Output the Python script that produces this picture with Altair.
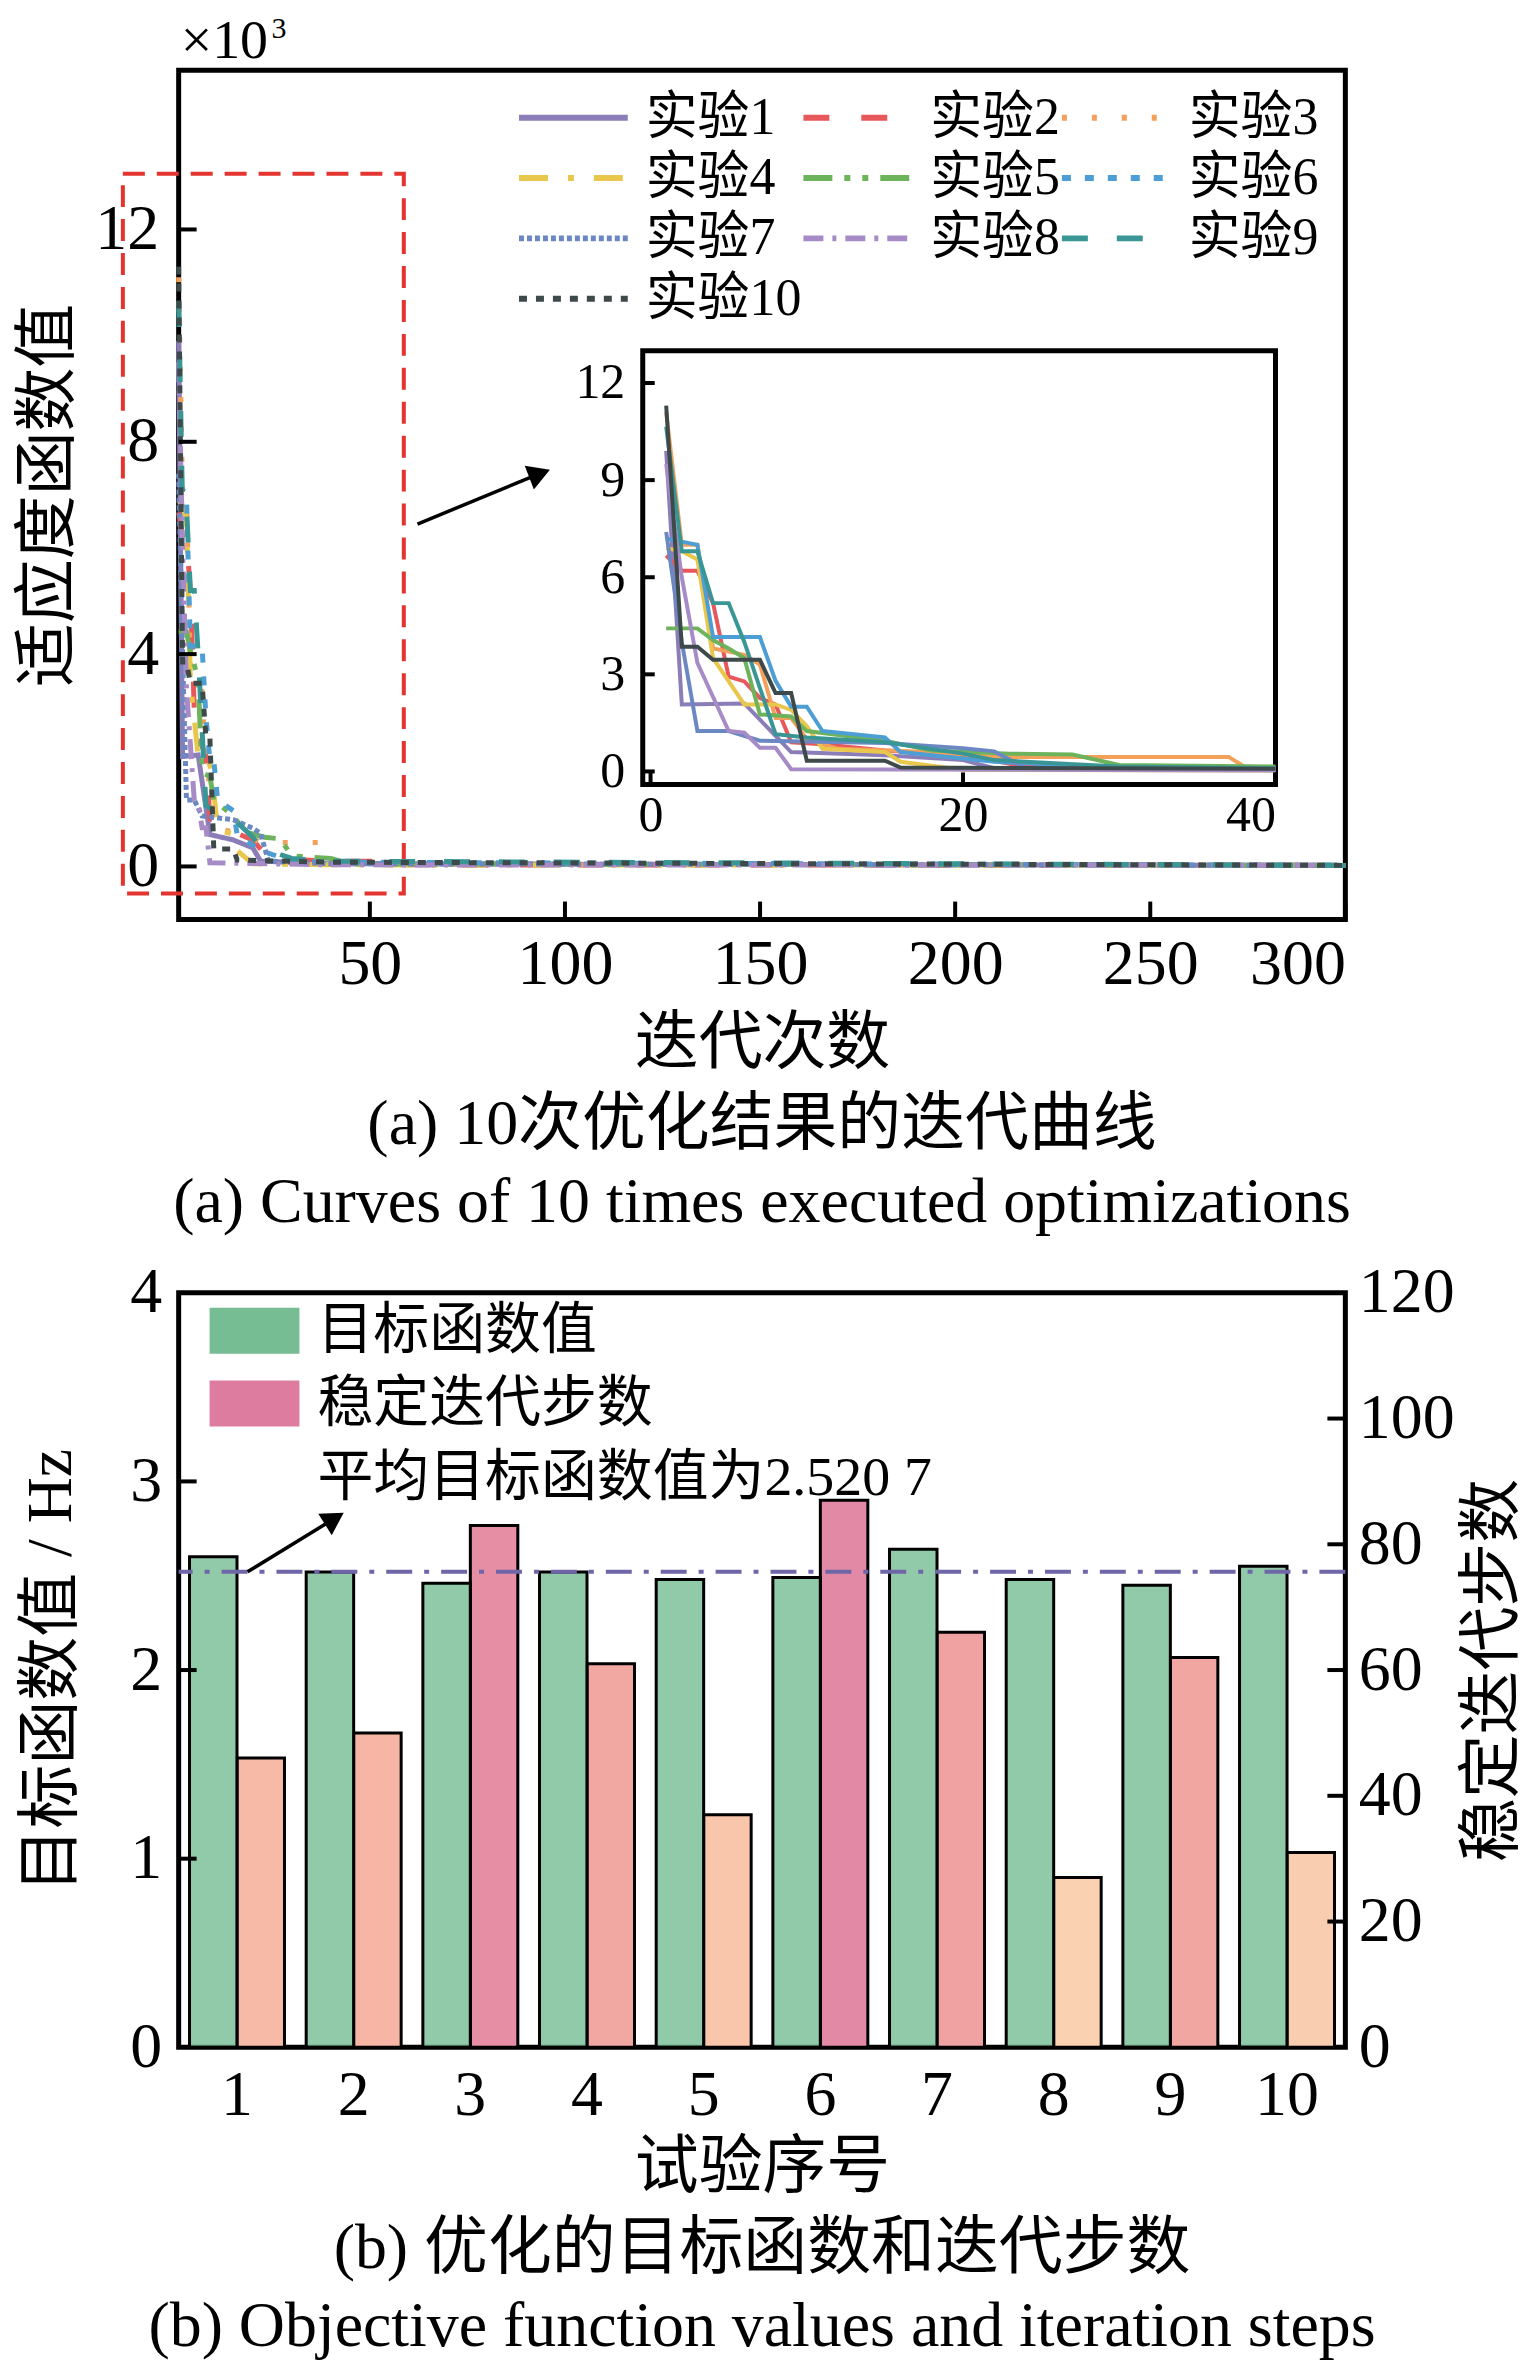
import altair as alt
import pandas as pd

FONT = "Liberation Serif, Noto Sans CJK SC"

# ---------------- (a) 10 runs, fitness value (x10^3) vs iteration ----------------
runs = ["实验1", "实验2", "实验3", "实验4", "实验5", "实验6", "实验7", "实验8", "实验9", "实验10"]

it1 = [1, 2, 6, 8, 9, 15, 20, 22, 40, 300]
v1 = [9.9, 2.07, 2.1, 1.1, 0.6, 0.5, 0.35, 0.1, 0.05, 0.02]
it2 = [1, 2, 3, 4, 5, 6, 7, 8, 9, 11, 15, 20, 24, 40, 52, 60, 300]
v2 = [6.67, 6.2, 6.2, 5.2, 2.93, 2.78, 2.27, 2.07, 0.9, 0.84, 0.65, 0.5, 0.15, 0.1, 0.1, 0.03, 0.02]
it3 = [1, 2, 3, 4, 6, 7, 8, 9, 10, 12, 18, 22, 37, 38, 40, 55, 300]
v3 = [11.1, 7.0, 7.0, 3.8, 3.6, 3.3, 1.65, 1.65, 1.0, 0.7, 0.6, 0.45, 0.45, 0.15, 0.1, 0.04, 0.02]
it4 = [1, 2, 3, 4, 6, 8, 9, 10, 11, 15, 16, 20, 40, 300]
v4 = [6.9, 6.8, 6.55, 3.5, 2.07, 2.07, 1.9, 1.4, 0.7, 0.6, 0.3, 0.05, 0.03, 0.02]
it5 = [1, 3, 4, 5, 6, 7, 9, 10, 15, 18, 23, 27, 30, 40, 45, 300]
v5 = [4.42, 4.42, 4.06, 3.8, 3.5, 1.76, 1.7, 1.25, 0.95, 0.65, 0.55, 0.52, 0.2, 0.15, 0.05, 0.02]
it6 = [1, 2, 3, 4, 7, 8, 9, 10, 11, 15, 16, 22, 30, 40, 300]
v6 = [7.2, 7.1, 7.0, 4.15, 4.15, 2.8, 2.0, 2.0, 1.25, 1.05, 0.6, 0.3, 0.1, 0.08, 0.02]
it7 = [1, 2, 3, 5, 7, 15, 20, 22, 24, 40, 300]
v7 = [7.4, 4.0, 1.25, 1.25, 0.95, 0.88, 0.72, 0.62, 0.1, 0.05, 0.02]
it8 = [1, 2, 3, 5, 6, 7, 8, 9, 40, 300]
v8 = [9.5, 6.0, 3.35, 1.25, 1.2, 0.73, 0.73, 0.07, 0.03, 0.02]
it9 = [1, 2, 3, 4, 5, 6, 8, 10, 15, 20, 22, 30, 40, 300]
v9 = [10.65, 6.8, 6.8, 5.2, 5.2, 4.0, 1.15, 1.05, 0.9, 0.55, 0.35, 0.15, 0.1, 0.02]
it10 = [1, 2, 3, 4, 7, 8, 9, 10, 15, 16, 40, 300]
v10 = [11.3, 3.85, 3.85, 3.45, 3.45, 2.42, 2.42, 0.33, 0.33, 0.12, 0.08, 0.02]

run_iters = [it1, it2, it3, it4, it5, it6, it7, it8, it9, it10]
run_vals = [v1, v2, v3, v4, v5, v6, v7, v8, v9, v10]

run_colors = ["#8B7DB8", "#E8575A", "#F3A05A", "#E9C74C", "#6CB35C",
              "#4C9ED4", "#6C88C2", "#A68BC7", "#3A9595", "#3E4A4A"]
run_dashes = [[1, 0], [26, 32], [5, 25], [29, 20, 6, 20], [29, 12, 6, 12, 6, 12],
              [9, 14], [5, 3], [20, 9, 4, 9], [26, 29], [8, 9]]

main_x_domain = [1, 300]
main_y_domain = [-1, 15]
main_x_ticks = [50, 100, 150, 200, 250, 300]
main_y_ticks = [0, 4, 8, 12]

inset_x_domain = [-0.5, 40]
inset_y_domain = [-0.4, 13]
inset_x_ticks = [0, 20, 40]
inset_y_ticks = [0, 3, 6, 9, 12]

box_x = [-13.3, 58.7]
box_y = [-0.51, 13.05]
arrow_a = [62.2, 6.45, 93.5, 7.4]   # tail x, tail y, head x, head y

# ---------------- (b) objective values and steps ----------------
trials = list(range(1, 11))
objective = [2.60, 2.52, 2.46, 2.52, 2.48, 2.49, 2.64, 2.48, 2.45, 2.55]
steps = [46, 50, 83, 61, 37, 87, 66, 27, 62, 31]
mean_obj = 2.5207
mean_label = "平均目标函数值为2.520 7"
bar_kinds = ["目标函数值", "稳定迭代步数"]
left_ticks = [1, 2, 3]
right_ticks = [20, 40, 60, 80, 100]

TOP_W, TOP_H = 1169, 851
BOT_W, BOT_H = 1169, 756
TICK = 18

curves = pd.concat(
    [pd.DataFrame({"iter": i, "val": v, "run": n}) for n, i, v in zip(runs, run_iters, run_vals)],
    ignore_index=True,
)

color_scale = alt.Scale(domain=runs, range=run_colors)
dash_scale = alt.Scale(domain=runs, range=run_dashes)
# line symbol drawn twice as long as its nominal size, so rows stay compact
run_legend = alt.Legend(
    title=None, orient="none", legendX=365, legendY=17, columns=3, direction="horizontal",
    columnPadding=-11, rowPadding=3.5, symbolType="M-2,0H2", symbolSize=2970,
    symbolStrokeWidth=6, labelFont=FONT, labelFontSize=52, labelOffset=42,
    labelLimit=0, labelColor="black",
)

main_x_scale = alt.Scale(domain=main_x_domain, nice=False, zero=False)
main_y_scale = alt.Scale(domain=main_y_domain, nice=False, zero=False)
# same axis object on every layer of a shared channel (axis=None would drop it)
main_x_axis = alt.Axis(values=main_x_ticks, ticks=False, domain=False, grid=False,
                       labelFontSize=64, labelPadding=13, title="迭代次数",
                       titleFontSize=64, titlePadding=15)
main_y_axis = alt.Axis(values=main_y_ticks, ticks=False, domain=False, grid=False,
                       labelFontSize=64, labelPadding=20, title="适应度函数值",
                       titleFontSize=64, titlePadding=14)

main_lines = alt.Chart(curves).mark_line(strokeWidth=5).encode(
    x=alt.X("iter:Q", scale=main_x_scale, axis=main_x_axis),
    y=alt.Y("val:Q", scale=main_y_scale, axis=main_y_axis),
    color=alt.Color("run:N", scale=color_scale, legend=run_legend),
    strokeDash=alt.StrokeDash("run:N", scale=dash_scale, legend=run_legend),
)

main_ytick = alt.Chart(pd.DataFrame({"v": main_y_ticks})).mark_rule(color="black", strokeWidth=4).encode(
    y=alt.Y("v:Q", scale=main_y_scale, axis=main_y_axis), x=alt.value(0), x2=alt.value(TICK))
main_xtick = alt.Chart(pd.DataFrame({"v": main_x_ticks})).mark_rule(color="black", strokeWidth=4).encode(
    x=alt.X("v:Q", scale=main_x_scale, axis=main_x_axis), y=alt.value(TOP_H), y2=alt.value(TOP_H - TICK))

zoom_box = alt.Chart(pd.DataFrame({"x0": [box_x[0]], "x1": [box_x[1]], "y0": [box_y[0]], "y1": [box_y[1]]})).mark_rect(
    fillOpacity=0, stroke="#E3342F", strokeWidth=4, strokeDash=[22, 12]
).encode(
    x=alt.X("x0:Q", scale=main_x_scale, axis=main_x_axis), x2="x1:Q",
    y=alt.Y("y0:Q", scale=main_y_scale, axis=main_y_axis), y2="y1:Q",
)

arrow_df = pd.DataFrame({"x0": [arrow_a[0]], "y0": [arrow_a[1]], "x1": [arrow_a[2]], "y1": [arrow_a[3]]})
arrow_line = alt.Chart(arrow_df).mark_rule(color="black", strokeWidth=3.5).encode(
    x=alt.X("x0:Q", scale=main_x_scale, axis=main_x_axis), x2="x1:Q",
    y=alt.Y("y0:Q", scale=main_y_scale, axis=main_y_axis), y2="y1:Q",
)
arrow_head = alt.Chart(arrow_df).mark_point(shape="triangle-up", filled=True, size=650, angle=69,
                                            color="black", opacity=1).encode(
    x=alt.X("x1:Q", scale=main_x_scale, axis=main_x_axis),
    y=alt.Y("y1:Q", scale=main_y_scale, axis=main_y_axis),
)

x10_text = alt.Chart(pd.DataFrame({"t": ["×10"]})).mark_text(
    font=FONT, fontSize=56, align="left", baseline="alphabetic", color="black"
).encode(x=alt.value(2), y=alt.value(-12), text="t:N")
x10_exp = alt.Chart(pd.DataFrame({"t": ["3"]})).mark_text(
    font=FONT, fontSize=30, align="left", baseline="alphabetic", color="black"
).encode(x=alt.value(93), y=alt.value(-32), text="t:N")

main_layer = alt.layer(zoom_box, main_lines, main_ytick, main_xtick, arrow_line, arrow_head, x10_text, x10_exp)

# inset (zoom of first 40 iterations)
inset_x_scale = alt.Scale(domain=inset_x_domain, range=[465, 1099], nice=False, zero=False)
inset_y_scale = alt.Scale(domain=inset_y_domain, range=[715.6, 281], nice=False, zero=False)
inset_x_axis = alt.Axis(orient="bottom", offset=715.6 - TOP_H, values=inset_x_ticks, ticks=False,
                        domain=False, grid=False, labelFontSize=50, labelPadding=6, title=None, zindex=2)
inset_y_axis = alt.Axis(orient="left", offset=-465, values=inset_y_ticks, ticks=False,
                        domain=False, grid=False, labelFontSize=50, labelPadding=18, title=None, zindex=2)

inset_box = alt.Chart(pd.DataFrame({"x0": [inset_x_domain[0]], "x1": [inset_x_domain[1]],
                                    "y0": [inset_y_domain[0]], "y1": [inset_y_domain[1]]})).mark_rect(
    fill="white", stroke="black", strokeWidth=5
).encode(
    x=alt.X("x0:Q", scale=inset_x_scale, axis=inset_x_axis), x2="x1:Q",
    y=alt.Y("y0:Q", scale=inset_y_scale, axis=inset_y_axis), y2="y1:Q",
)
inset_lines = alt.Chart(curves).transform_filter("datum.iter <= 40").mark_line(strokeWidth=4).encode(
    x=alt.X("iter:Q", scale=inset_x_scale, axis=inset_x_axis),
    y=alt.Y("val:Q", scale=inset_y_scale, axis=inset_y_axis),
    color=alt.Color("run:N", scale=color_scale, legend=run_legend),
)
inset_ytick = alt.Chart(pd.DataFrame({"v": inset_y_ticks})).mark_rule(color="black", strokeWidth=4).encode(
    y=alt.Y("v:Q", scale=inset_y_scale, axis=inset_y_axis), x=alt.value(465), x2=alt.value(477))
inset_xtick = alt.Chart(pd.DataFrame({"v": inset_x_ticks})).mark_rule(color="black", strokeWidth=4).encode(
    x=alt.X("v:Q", scale=inset_x_scale, axis=inset_x_axis), y=alt.value(715.6), y2=alt.value(703.6))

inset_layer = alt.layer(inset_box, inset_lines, inset_ytick, inset_xtick)

top = alt.layer(main_layer, inset_layer).resolve_scale(x="independent", y="independent").properties(
    width=TOP_W, height=TOP_H,
    title=alt.TitleParams(
        text=["(a)  10次优化结果的迭代曲线", "(a)  Curves of 10 times executed optimizations"],
        orient="bottom", anchor="middle", frame="group", font=FONT, fontSize=64,
        fontWeight="normal", lineHeight=78, offset=18, color="black",
    ),
)

# ---------------- (b) bars ----------------
bars_df = pd.DataFrame({"trial": trials, "obj": objective, "steps": steps})
x_scale_b = alt.Scale(paddingInner=0.186, paddingOuter=0.093)
xoff_scale = alt.Scale(domain=bar_kinds)
left_y_scale = alt.Scale(domain=[0, 4], nice=False)
right_y_scale = alt.Scale(domain=[0, 120], nice=False)
kind_scale = alt.Scale(domain=bar_kinds, range=["#76BD93", "#DE7CA0"])
kind_legend = alt.Legend(
    title=None, orient="none", legendX=31, legendY=-7, direction="vertical",
    symbolType="M-1,-0.511H1V0.511H-1Z", symbolSize=8100, symbolStrokeWidth=0,
    symbolOpacity=1, labelFont=FONT, labelFontSize=56, labelOffset=18,
    rowPadding=-23, labelLimit=0, labelColor="black",
)
x_axis_b = alt.Axis(labelAngle=0, ticks=False, domain=False, labelFontSize=64, labelPadding=16,
                    title="试验序号", titleFontSize=64, titlePadding=8)
left_axis = alt.Axis(orient="left", values=[0, 1, 2, 3, 4], ticks=False, domain=False, grid=False,
                     labelFontSize=64, labelPadding=17, title="目标函数值 / Hz",
                     titleFontSize=64, titlePadding=46)
right_axis = alt.Axis(orient="right", values=[0, 20, 40, 60, 80, 100, 120], ticks=False, domain=False,
                      grid=False, labelFontSize=64, labelPadding=13, title="稳定迭代步数",
                      titleFontSize=64, titlePadding=6, titleAngle=270, titleBaseline="top")

green = alt.Chart(bars_df).transform_calculate(kind=f'"{bar_kinds[0]}"').mark_bar(
    stroke="black", strokeWidth=3, fillOpacity=0.8
).encode(
    x=alt.X("trial:O", scale=x_scale_b, axis=x_axis_b),
    xOffset=alt.XOffset("kind:N", scale=xoff_scale),
    y=alt.Y("obj:Q", scale=left_y_scale, axis=left_axis),
    color=alt.Color("kind:N", scale=kind_scale, legend=kind_legend),
)
pink = alt.Chart(bars_df).transform_calculate(kind=f'"{bar_kinds[1]}"').mark_bar(
    stroke="black", strokeWidth=3
).encode(
    x=alt.X("trial:O", scale=x_scale_b, axis=x_axis_b),
    xOffset=alt.XOffset("kind:N", scale=xoff_scale),
    y=alt.Y("steps:Q", scale=right_y_scale, axis=right_axis),
    fill=alt.Fill("steps:Q", scale=alt.Scale(domain=[27, 87], range=["#FAD2B2", "#E28AA5"]), legend=None),
)
right_tick = alt.Chart(pd.DataFrame({"v": right_ticks})).mark_rule(color="black", strokeWidth=4).encode(
    y=alt.Y("v:Q", scale=right_y_scale, axis=right_axis), x=alt.value(BOT_W), x2=alt.value(BOT_W - TICK))
left_tick = alt.Chart(pd.DataFrame({"v": left_ticks})).mark_rule(color="black", strokeWidth=4).encode(
    y=alt.Y("v:Q", scale=left_y_scale, axis=left_axis), x=alt.value(0), x2=alt.value(TICK))

mean_line = alt.Chart(pd.DataFrame({"m": [mean_obj]})).mark_rule(
    color="#6F66A8", strokeWidth=4, strokeDash=[26, 12, 5, 12]
).encode(y=alt.Y("m:Q", scale=left_y_scale, axis=left_axis))

mean_text = alt.Chart(pd.DataFrame({"t": [mean_label], "y": [3.02]})).mark_text(
    font=FONT, fontSize=56, align="left", baseline="middle", color="black"
).encode(x=alt.value(139), y=alt.Y("y:Q", scale=left_y_scale, axis=left_axis), text="t:N")

arrow_b_df = pd.DataFrame({"y0": [mean_obj], "y1": [2.803]})
arrow_b = alt.Chart(arrow_b_df).mark_rule(color="black", strokeWidth=3.5).encode(
    x=alt.value(69), x2=alt.value(156),
    y=alt.Y("y0:Q", scale=left_y_scale, axis=left_axis), y2="y1:Q",
)
arrow_b_head = alt.Chart(arrow_b_df).mark_point(shape="triangle-up", filled=True, size=650, angle=58,
                                                color="black", opacity=1).encode(
    x=alt.value(156), y=alt.Y("y1:Q", scale=left_y_scale, axis=left_axis))

right_group = alt.layer(pink, right_tick)
left_group = alt.layer(green, mean_line, left_tick, arrow_b, arrow_b_head, mean_text)

bottom = alt.layer(right_group, left_group).resolve_scale(y="independent").properties(
    width=BOT_W, height=BOT_H,
    title=alt.TitleParams(
        text=["(b)  优化的目标函数和迭代步数", "(b)  Objective function values and iteration steps"],
        orient="bottom", anchor="middle", frame="group", font=FONT, fontSize=64,
        fontWeight="normal", lineHeight=78, offset=18, color="black",
    ),
)

chart = alt.vconcat(top, bottom, spacing=20).resolve_scale(
    color="independent", strokeDash="independent", fill="independent"
).properties(
    padding={"left": 6, "top": 0, "right": 0, "bottom": 0}
).configure(background="white").configure_view(
    stroke="black", strokeWidth=5
).configure_axis(
    labelFont=FONT, titleFont=FONT, labelColor="black", titleColor="black", titleFontWeight="normal"
).configure_legend(padding=0)

chart.save("out.html", embed_options={"renderer": "svg", "actions": False})
